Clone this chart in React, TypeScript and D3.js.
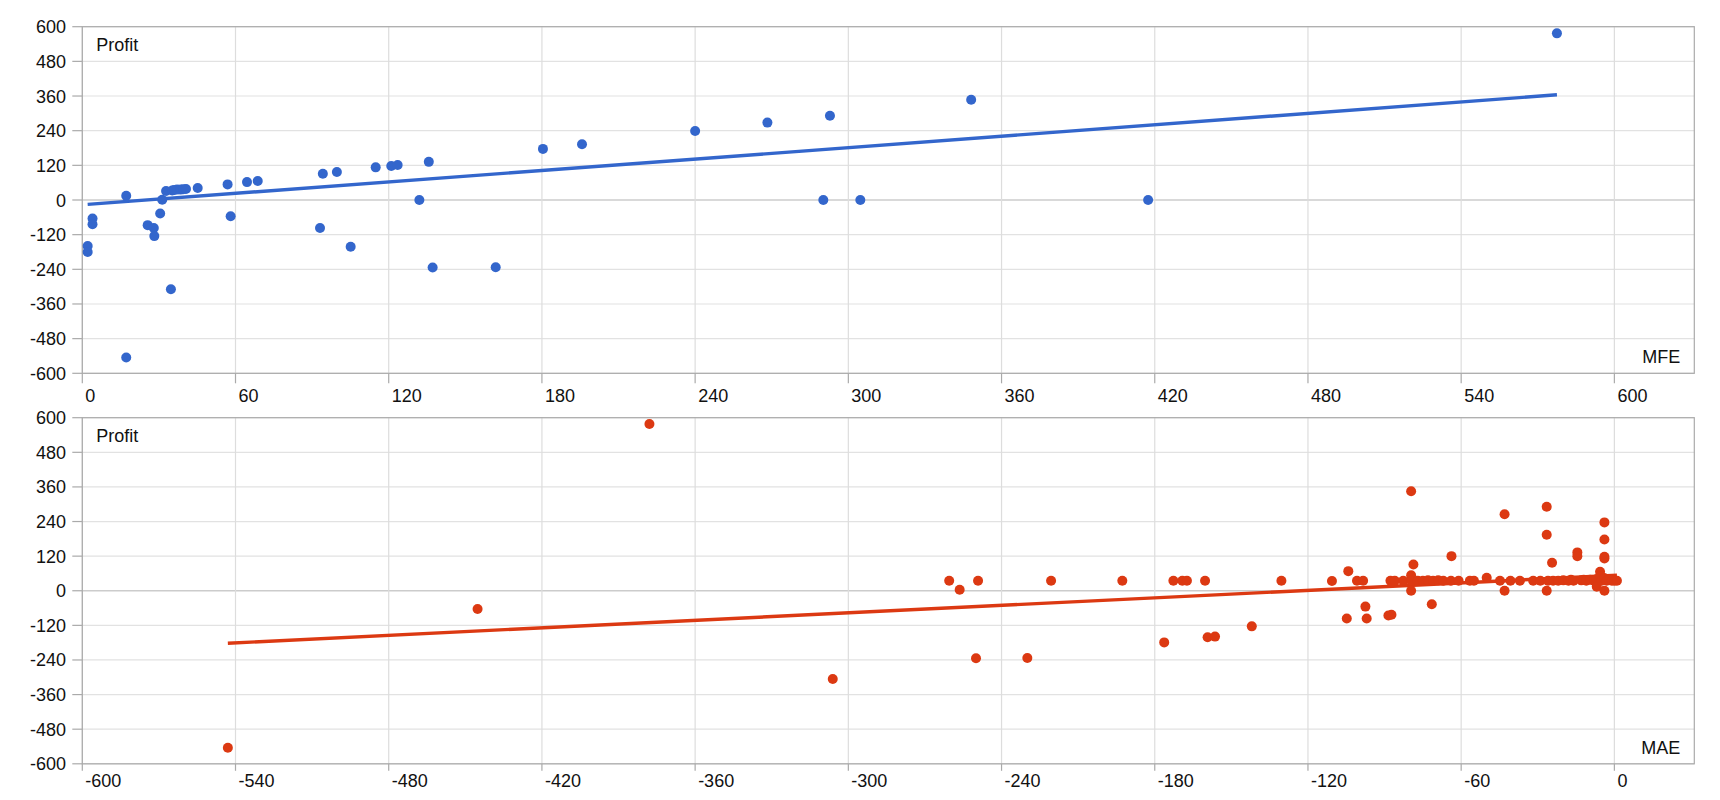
import React from 'react';
import * as d3 from 'd3';

// MFE vs Profit
const mfePoints: [number, number][] = [
  [2.1, -159], [2.1, -180], [4, -64], [4, -84], [17.2, 15], [17.2, -545],
  [25.6, -87], [28, -97], [28.2, -125], [30.5, -47], [31.3, 1], [32.8, 31],
  [34.7, -309], [35.2, 33], [36, 35], [37.1, 36], [38.5, 36], [39.5, 37], [40.6, 38],
  [45.2, 41.5], [56.9, 54], [58.1, -56], [64.5, 62], [68.7, 66], [93.1, -97],
  [94.2, 91], [99.7, 97], [105.1, -162], [114.9, 113], [121, 117.5], [123.5, 121],
  [132, 0], [135.7, 132], [137.2, -234], [161.9, -233], [180.4, 177], [195.7, 193],
  [240, 239], [268.3, 268], [292.8, 292], [290.2, 0], [304.7, 0], [348.1, 347],
  [417.4, 0], [577.5, 577],
];

// MAE vs Profit
const maePoints: [number, number][] = [
  [-543, -544.6], [-445.2, -63.5], [-377.9, 578], [-306.1, -306], [-260.5, 34.6],
  [-256.4, 3.5], [-249.2, 34.6], [-250, -234], [-229.9, -233], [-220.6, 34.6],
  [-192.7, 34.6], [-176.3, -179], [-172.7, 34.6], [-169.2, 34.6], [-167.4, 34.6],
  [-160.3, 34.6], [-159.3, -161.5], [-156.4, -159], [-142, -123.5], [-130.4, 34.6],
  [-110.6, 33.5], [-104.2, 68], [-104.8, -96], [-100.8, 34.6], [-98.4, 34.6],
  [-97.5, -55], [-97, -96], [-88.5, -86], [-87.3, -83], [-87.7, 34.6], [-86, 34.6],
  [-82.7, 34.6], [-79.6, 345], [-78.7, 91], [-79.6, 54], [-79.6, 0], [-79.6, 34.6],
  [-77, 34.6], [-75, 34.6], [-73, 36], [-71, 34.6], [-71.5, -47], [-69, 36],
  [-67, 34.6], [-63.8, 120], [-64, 34.6], [-61, 34.6], [-56.6, 34.6], [-55, 34.6],
  [-50, 45], [-44.8, 34.6], [-43, 265], [-43, 0], [-40.7, 34.6], [-37, 34.6],
  [-31.8, 34.6], [-29, 34.6], [-26.5, 291], [-26.5, 194], [-24.4, 97], [-26.5, 0],
  [-26, 34.6], [-24, 34.6], [-22, 34.6], [-20, 36], [-18, 34.6], [-17, 38],
  [-16, 34.6], [-14.5, 133], [-14.5, 120], [-13, 36], [-12, 38], [-11, 34.6],
  [-9.5, 38], [-8, 34.6], [-7, 40], [-6.9, 14], [-5.6, 66], [-5.6, 50],
  [-5, 34.6], [-4, 44], [-3.9, 237], [-3.9, 178], [-3.9, 118], [-3.9, 112],
  [-3.9, 0], [-3, 34.6], [-2, 38], [-1, 34.6], [0, 34.6], [1, 34.6],
];

const mfeTrend = { intercept: -16.5, slope: 0.6592 };
const maeTrend = { intercept: 53.4, slope: 0.4334 };

const topXTicks = [0, 60, 120, 180, 240, 300, 360, 420, 480, 540, 600];
const bottomXTicks = [-600, -540, -480, -420, -360, -300, -240, -180, -120, -60, 0];
const yTicks = [-600, -480, -360, -240, -120, 0, 120, 240, 360, 480, 600];

const FONT = 'Arial, "Liberation Sans", sans-serif';

type PanelProps = {
  points: [number, number][];
  trend: { intercept: number; slope: number };
  xDomain: [number, number];
  xTicks: number[];
  top: number;
  bottom: number;
  color: string;
  xLabel: string;
  tickLen: number;
  labelOffset: number;
};

function Panel({ points, trend, xDomain, xTicks, top, bottom, color, xLabel, tickLen, labelOffset }: PanelProps) {
  const left = 82.3;
  const right = 1694.3;
  const x = d3.scaleLinear().domain(xDomain).range([left, right]);
  const y = d3.scaleLinear().domain([-600, 600]).range([bottom, top]);
  const xs = points.map((p) => p[0]);
  const x0 = d3.min(xs) as number;
  const x1 = d3.max(xs) as number;
  const trendLine = d3.line<number>()
    .x((v) => x(v))
    .y((v) => y(trend.intercept + trend.slope * v));
  return (
    <g>
      {yTicks.map((t) => (
        <line key={'hy' + t} x1={left} x2={right} y1={y(t)} y2={y(t)}
          stroke={t === 0 ? '#cccccc' : '#e2e2e2'} strokeWidth={t === 0 ? 1.6 : 1.2} />
      ))}
      {xTicks.map((t) => (
        <line key={'vx' + t} x1={x(t)} x2={x(t)} y1={top} y2={bottom}
          stroke="#dddddd" strokeWidth={1.2} />
      ))}
      <rect x={left} y={top} width={right - left} height={bottom - top}
        fill="none" stroke="#aaaaaa" strokeWidth={1.2} />
      {yTicks.map((t) => (
        <g key={'ty' + t}>
          <line x1={left - 10} x2={left} y1={y(t)} y2={y(t)} stroke="#aaaaaa" strokeWidth={1.2} />
          <text x={66} y={y(t) + 6.5} textAnchor="end" fontSize={18} fontFamily={FONT} fill="#111">
            {t}
          </text>
        </g>
      ))}
      {xTicks.map((t) => (
        <g key={'tx' + t}>
          <line x1={x(t)} x2={x(t)} y1={bottom} y2={bottom + tickLen} stroke="#aaaaaa" strokeWidth={1.2} />
          <text x={x(t) + 3} y={bottom + labelOffset} textAnchor="start" fontSize={18} fontFamily={FONT} fill="#111">
            {t}
          </text>
        </g>
      ))}
      <path d={trendLine([x0, x1]) || ''} fill="none" stroke={color} strokeWidth={3.4} />
      {points.map((p, i) => (
        <circle key={i} cx={x(p[0])} cy={y(p[1])} r={5} fill={color} />
      ))}
      <text x={left + 14} y={top + 24} fontSize={18} fontFamily={FONT} fill="#111">Profit</text>
      <text x={right - 14} y={bottom - 10} textAnchor="end" fontSize={18} fontFamily={FONT} fill="#111">{xLabel}</text>
    </g>
  );
}

export default function App() {
  return (
    <svg width={1720} height={800} style={{ position: 'absolute', left: 0, top: 0, background: '#fff' }}>
      <rect x={0} y={0} width={1720} height={800} fill="#ffffff" />
      <Panel points={mfePoints} trend={mfeTrend} xDomain={[0, 631.3]} xTicks={topXTicks}
        top={26.7} bottom={373.3} color="#3366cc" xLabel="MFE" tickLen={10} labelOffset={28.4} />
      <Panel points={maePoints} trend={maeTrend} xDomain={[-600, 31.3]} xTicks={bottomXTicks}
        top={417.7} bottom={763.8} color="#dc3912" xLabel="MAE" tickLen={7} labelOffset={23.5} />
    </svg>
  );
}
